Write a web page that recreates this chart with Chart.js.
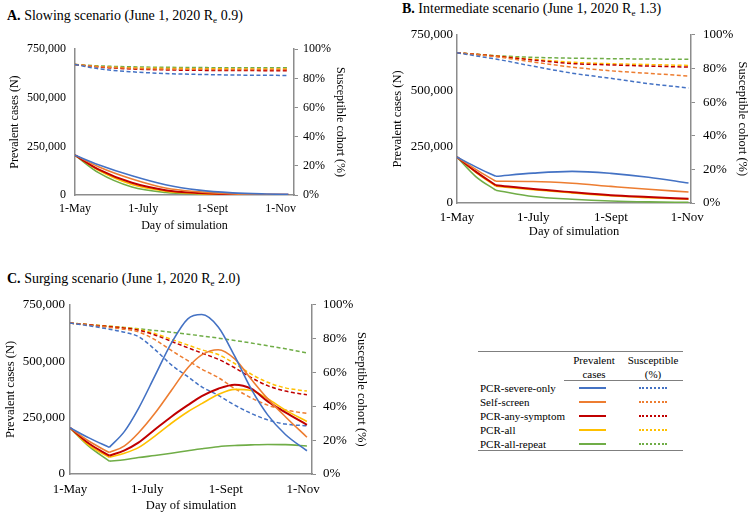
<!DOCTYPE html>
<html>
<head>
<meta charset="utf-8">
<script src="https://cdn.jsdelivr.net/npm/chart.js@4.4.1/dist/chart.umd.min.js"></script>
<style>
  body { margin: 0; background: #fff; font-family: "Liberation Serif", "Times New Roman", serif; color: #000; }
  #page { position: relative; width: 750px; height: 515px; overflow: hidden; }
  canvas { position: absolute; }
  .ttl { position: absolute; font-size: 14px; line-height: 16px; white-space: nowrap; }
  .ttl sub { font-size: 0.65em; vertical-align: -0.3em; line-height: 0; }
  .lg { position: absolute; font-size: 11px; line-height: 14px; white-space: nowrap; }
  .rule { position: absolute; height: 0; border-top: 1px solid #7f7f7f; }
</style>
</head>
<body>
<div id="page">
  <div class="ttl" style="left:7px;top:8px"><b>A.</b> Slowing scenario (June 1, 2020 R<sub>e</sub> 0.9)</div>
  <div class="ttl" style="left:402px;top:1px"><b>B.</b> Intermediate scenario (June 1, 2020 R<sub>e</sub> 1.3)</div>
  <div class="ttl" style="left:7px;top:271px"><b>C.</b> Surging scenario (June 1, 2020 R<sub>e</sub> 2.0)</div>
  <canvas id="chartA" width="355" height="204" style="left:0;top:33px"></canvas>
  <canvas id="chartB" width="367" height="226" style="left:383px;top:19px"></canvas>
  <canvas id="chartC" width="372" height="225" style="left:0;top:290px"></canvas>
  <div id="legend"></div>
</div>
<script>
// shared labels / ticks
const seriesNames = ['PCR-severe-only', 'Self-screen', 'PCR-any-symptom', 'PCR-all', 'PCR-all-repeat'];
const seriesColors = ['#4472c4', '#ed7d31', '#c00000', '#ffc000', '#70ad47'];
const xTickDays = [0, 61, 123, 184];
const xTickLabels = ['1-May', '1-July', '1-Sept', '1-Nov'];
const caseTicks = [0, 250000, 500000, 750000];
const splitDay = 31; // June 1, Re changes

// A. Slowing scenario
const daysA = [0, 21, 51, 81, 111, 141, 171, 191];
const aCasesSevere = [205000, 156000, 99000, 53000, 25000, 11000, 5000, 3000];
const aCasesSelf = [205000, 145000, 82000, 36000, 16000, 6000, 2500, 1500];
const aCasesAny = [205000, 132000, 63000, 25000, 10000, 4000, 1500, 1000];
const aCasesAll = [205000, 127000, 54000, 20000, 7000, 2500, 1000, 500];
const aCasesRepeat = [205000, 115000, 41000, 13000, 5000, 2000, 800, 300];
const aSuscSevere = [89.5, 86.6, 84.5, 83.3, 82.7, 82.3, 82.1, 82.0];
const aSuscSelf = [89.5, 88.0, 86.9, 86.4, 86.2, 86.1, 86.0, 86.0];
const aSuscAny = [89.5, 87.8, 86.4, 85.8, 85.5, 85.4, 85.3, 85.3];
const aSuscAll = [89.5, 88.1, 87.2, 86.8, 86.6, 86.5, 86.4, 86.4];
const aSuscRepeat = [89.5, 88.6, 87.9, 87.6, 87.4, 87.3, 87.3, 87.3];

// B. Intermediate scenario
const daysB = [0, 15, 31, 61, 92, 123, 153, 185];
const bCasesSevere = [205000, 161000, 119000, 133000, 141000, 132000, 115000, 89000];
const bCasesSelf = [205000, 150000, 97000, 96000, 88000, 74000, 61000, 49000];
const bCasesAny = [205000, 140000, 79000, 62000, 48000, 35000, 27000, 19000];
const bCasesAll = [205000, 137000, 75000, 59000, 45000, 32000, 24000, 17000];
const bCasesRepeat = [205000, 118000, 57000, 29000, 17000, 9000, 5000, 3000];
const bSuscSevere = [89.3, 87.5, 85.6, 81.3, 77.2, 74.1, 71.0, 68.4];
const bSuscSelf = [89.3, 88.2, 87.0, 83.8, 80.8, 78.6, 77.1, 75.5];
const bSuscAny = [89.3, 88.4, 87.3, 85.0, 82.9, 82.1, 81.4, 80.8];
const bSuscAll = [89.3, 88.4, 87.4, 85.4, 83.7, 82.8, 82.3, 81.8];
const bSuscRepeat = [89.3, 88.5, 87.6, 86.6, 86.1, 85.8, 85.6, 85.4];

// C. Surging scenario
const daysC = [0, 15, 31, 43, 54, 67, 80, 93, 104, 117, 130, 143, 156, 170, 187];
const cCasesSevere = [205000, 160000, 118000, 189000, 290000, 435000, 580000, 688000, 707000, 652000, 522000, 377000, 262000, 175000, 103000];
const cCasesSelf = [205000, 145000, 95000, 125000, 182000, 269000, 370000, 471000, 528000, 551000, 510000, 420000, 334000, 254000, 163000];
const cCasesAny = [205000, 135000, 81000, 105000, 139000, 197000, 254000, 305000, 345000, 378000, 396000, 378000, 322000, 273000, 218000];
const cCasesAll = [205000, 127000, 74000, 92000, 117000, 168000, 225000, 276000, 312000, 352000, 375000, 370000, 334000, 283000, 233000];
const cCasesRepeat = [205000, 122000, 57000, 63000, 73000, 82000, 92000, 103000, 112000, 121000, 126000, 129000, 131000, 130000, 124000];
const cSuscSevere = [89.2, 87.6, 85.6, 83.8, 81.2, 73.6, 64.5, 57.5, 51.5, 46.5, 40.7, 35.8, 32.0, 29.5, 28.5];
const cSuscSelf = [89.2, 88.0, 86.6, 85.5, 84.0, 79.4, 73.0, 67.0, 62.0, 57.0, 50.5, 45.0, 40.7, 37.8, 35.8];
const cSuscAny = [89.2, 88.2, 87.1, 86.2, 85.0, 82.2, 78.4, 74.6, 71.5, 67.8, 62.8, 57.0, 52.2, 49.0, 46.8];
const cSuscAll = [89.2, 88.3, 87.3, 86.5, 85.5, 83.0, 79.6, 76.2, 73.4, 70.6, 65.3, 59.0, 54.2, 50.9, 49.0];
const cSuscRepeat = [89.2, 88.3, 87.3, 86.6, 85.8, 84.8, 83.8, 82.6, 81.6, 80.3, 78.9, 77.4, 75.8, 74.0, 71.5];

const axisGrey = '#8c8c8c';
Chart.defaults.font.family = '"Liberation Serif", "Times New Roman", serif';
Chart.defaults.color = '#000';

// cases lines get split at June 1 so the kink stays sharp
const buildDatasets = (days, cases, susc, split) => {
  const sets = [];
  cases.forEach((vals, i) => {
    const pts = days.map((d, k) => ({ x: d, y: vals[k] }));
    const base = {
      yAxisID: 'y', borderColor: seriesColors[i], borderWidth: i === 2 ? 2 : 1.6,
      pointRadius: 0, cubicInterpolationMode: 'monotone', fill: false,
    };
    if (split) {
      sets.push({ ...base, data: pts.filter(p => p.x <= splitDay) });
      sets.push({ ...base, data: pts.filter(p => p.x >= splitDay) });
    } else {
      sets.push({ ...base, data: pts });
    }
  });
  susc.forEach((vals, i) => {
    sets.push({
      yAxisID: 'y1', borderColor: seriesColors[i], borderWidth: 1.5, borderDash: [4, 2.5],
      pointRadius: 0, cubicInterpolationMode: 'monotone', fill: false,
      data: days.map((d, k) => ({ x: d, y: vals[k] })),
    });
  });
  return sets;
};

const makeChart = (id, datasets, c) => {
  const tickFont = { size: c.tickSize };
  const titleFont = { size: c.titleSize };
  return new Chart(document.getElementById(id), {
    type: 'line',
    data: { datasets },
    options: {
      responsive: false,
      animation: false,
      devicePixelRatio: 1,
      layout: { padding: { top: c.padTop, left: 0, right: 0, bottom: 0 } },
      plugins: { legend: { display: false }, tooltip: { enabled: false } },
      scales: {
        x: {
          type: 'linear', min: 0, max: c.xMax,
          afterBuildTicks: (s) => { s.ticks = xTickDays.map(v => ({ value: v })); },
          afterFit: (s) => { s.height = c.xH; },
          grid: { display: false, drawTicks: false },
          border: { display: true, color: axisGrey, width: 1.5 },
          ticks: { autoSkip: false, maxRotation: 0, padding: c.xPad, font: tickFont,
                   callback: (v, i) => xTickLabels[i] },
          title: { display: true, text: 'Day of simulation', font: titleFont,
                   padding: { top: 0, bottom: c.xTitlePad } },
        },
        y: {
          position: 'left', min: 0, max: 750000,
          afterBuildTicks: (s) => { s.ticks = caseTicks.map(v => ({ value: v })); },
          afterFit: (s) => { s.width = c.yW; },
          grid: { display: false, drawTicks: false },
          border: { display: true, color: axisGrey, width: 1.5 },
          ticks: { padding: c.yPad, font: tickFont, callback: (v) => v.toLocaleString('en-US') },
          title: { display: true, text: 'Prevalent cases (N)', font: titleFont,
                   padding: { top: c.yTitlePad, bottom: 0 } },
        },
        y1: {
          position: 'right', min: 0, max: 100,
          afterFit: (s) => { s.width = c.y1W; },
          grid: { display: true, drawOnChartArea: false, drawTicks: true, tickLength: 4,
                  color: axisGrey, lineWidth: 1 },
          border: { display: true, color: axisGrey, width: 1.5 },
          ticks: { stepSize: 20, padding: c.y1Pad, font: tickFont, callback: (v) => v + '%' },
          title: { display: true, text: 'Susceptible cohort (%)', font: titleFont,
                   padding: { top: c.y1TitlePad, bottom: 0 } },
        },
      },
    },
  });
};

makeChart('chartA',
  buildDatasets(daysA,
    [aCasesSevere, aCasesSelf, aCasesAny, aCasesAll, aCasesRepeat],
    [aSuscSevere, aSuscSelf, aSuscAny, aSuscAll, aSuscRepeat], false),
  { xMax: 196, padTop: 10, xH: 42, yW: 75, y1W: 61, tickSize: 12, titleSize: 12,
    xPad: 7, yPad: 9, y1Pad: 5, xTitlePad: 3.5, yTitlePad: 7.8, y1TitlePad: 7.8 });

makeChart('chartB',
  buildDatasets(daysB,
    [bCasesSevere, bCasesSelf, bCasesAny, bCasesAll, bCasesRepeat],
    [bSuscSevere, bSuscSelf, bSuscAny, bSuscAll, bSuscRepeat], true),
  { xMax: 187, padTop: 10, xH: 42, yW: 74, y1W: 59, tickSize: 13, titleSize: 12.5,
    xPad: 7, yPad: 4, y1Pad: 8, xTitlePad: 5.5, yTitlePad: 7.5, y1TitlePad: 0 });

makeChart('chartC',
  buildDatasets(daysC,
    [cCasesSevere, cCasesSelf, cCasesAny, cCasesAll, cCasesRepeat],
    [cSuscSevere, cSuscSelf, cSuscAny, cSuscAll, cSuscRepeat], true),
  { xMax: 191, padTop: 11, xH: 41, yW: 70, y1W: 60, tickSize: 13, titleSize: 12.5,
    xPad: 8, yPad: 5, y1Pad: 7, xTitlePad: 2, yTitlePad: 3.5, y1TitlePad: 3.5 });

// legend table (bottom right)
const legend = document.getElementById('legend');
const addEl = (cls, style, text) => {
  const el = document.createElement('div');
  el.className = cls;
  el.setAttribute('style', style);
  if (text) el.textContent = text;
  legend.appendChild(el);
};
addEl('rule', 'left:478px;top:351px;width:205px');
addEl('lg', 'left:564px;top:353px;width:60px;text-align:center', 'Prevalent');
addEl('lg', 'left:564px;top:367px;width:60px;text-align:center', 'cases');
addEl('lg', 'left:623px;top:353px;width:60px;text-align:center', 'Susceptible');
addEl('lg', 'left:623px;top:367px;width:60px;text-align:center', '(%)');
addEl('rule', 'left:564px;top:380px;width:119px');
const rowY = [388, 402, 416, 430, 444];
seriesNames.forEach((name, i) => {
  addEl('lg', `left:480px;top:${rowY[i] - 7}px`, name);
  addEl('rule', `left:579px;top:${rowY[i] - 1}px;width:27px;border-top:2px solid ${seriesColors[i]}`);
  addEl('rule', `left:639px;top:${rowY[i] - 1}px;width:28px;border-top:2px dotted ${seriesColors[i]}`);
});
addEl('rule', 'left:478px;top:450px;width:205px');
</script>
</body>
</html>
